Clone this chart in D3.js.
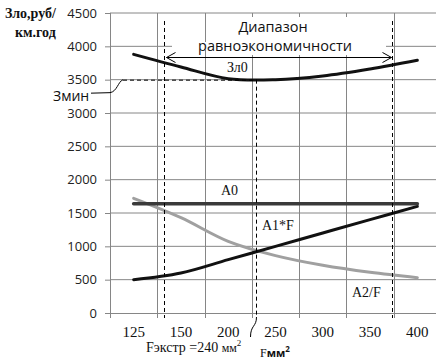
<!DOCTYPE html>
<html>
<head>
<meta charset="utf-8">
<script src="https://cdn.jsdelivr.net/npm/d3@7"></script>
<style>
  body { margin: 0; background: #fff; }
  svg { display: block; }
</style>
</head>
<body>
<div id="chart"></div>
<script>
// categories (F, mm2) and series
const categories = ["125", "150", "200", "250", "300", "350", "400"];
const zl0  = [3880, 3690, 3515, 3500, 3555, 3660, 3790];
const a0   = [1640, 1640, 1640, 1640, 1640, 1640, 1640];
const a1F  = [500, 600, 800, 1000, 1200, 1400, 1600];
const a2F  = [1720, 1430, 1075, 860, 715, 610, 530];
const yTicks = [0, 500, 1000, 1500, 2000, 2500, 3000, 3500, 4000, 4500];
// dashed markers, as position in category index units (range start, Fэкстр, range end)
const markIdx = [0.64, 2.59, 5.46];

const svgWidth = 436, svgHeight = 362;
const margin = {top: 13, left: 110, bottom: 49};
const plotRight = 441;
const height = svgHeight - margin.top - margin.bottom;

const svg = d3.select("#chart").append("svg")
    .attr("width", svgWidth)
    .attr("height", svgHeight);

const x = d3.scaleBand().domain(categories).range([margin.left, plotRight]);
const xi = d3.scaleLinear().domain([-0.5, categories.length - 0.5]).range([margin.left, plotRight]);
const y = d3.scaleLinear().domain([0, 4500]).range([margin.top + height, margin.top]);
const cx = i => x(categories[i]) + x.bandwidth() / 2;

const grid = "#868686";

// horizontal grid
svg.append("g").selectAll("line")
    .data(yTicks.slice(1))
    .enter().append("line")
      .attr("x1", margin.left).attr("x2", plotRight)
      .attr("y1", d => y(d)).attr("y2", d => y(d))
      .attr("stroke", grid).attr("stroke-width", 1);

// vertical grid at category boundaries
svg.append("g").selectAll("line")
    .data(categories.slice(1))
    .enter().append("line")
      .attr("x1", d => Math.round(x(d)) + 0.5).attr("x2", d => Math.round(x(d)) + 0.5)
      .attr("y1", margin.top).attr("y2", y(0))
      .attr("stroke", grid).attr("stroke-width", 1);

// y axis
const yAxis = svg.append("g")
    .attr("transform", "translate(" + margin.left + ",0)")
    .call(d3.axisLeft(y).tickValues(yTicks).tickSize(5).tickPadding(8).tickFormat(d3.format("d")));
yAxis.selectAll("line, path").attr("stroke", grid);
yAxis.select(".domain").attr("d", "M0.5," + y(0) + "V" + margin.top);
yAxis.selectAll("text")
    .attr("font-family", "'Open Sans', 'Liberation Sans', sans-serif")
    .attr("font-size", 13).attr("fill", "#222");

// x axis
const xAxis = svg.append("g")
    .attr("transform", "translate(0," + y(0) + ")")
    .call(d3.axisBottom(x).tickSize(0).tickPadding(13));
xAxis.select(".domain").attr("stroke", grid).attr("d", "M" + margin.left + ",0.5H" + plotRight);
xAxis.selectAll("text")
    .attr("font-family", "'Liberation Serif', 'Times New Roman', serif")
    .attr("font-size", 15).attr("fill", "#111");
svg.append("g").selectAll("line")
    .data(categories)
    .enter().append("line")
      .attr("x1", d => Math.round(x(d)) + 0.5).attr("x2", d => Math.round(x(d)) + 0.5)
      .attr("y1", y(0)).attr("y2", y(0) + 5)
      .attr("stroke", grid);

// white label box over the grid
svg.append("rect").attr("x", 172).attr("y", 42).attr("width", 214).attr("height", 8).attr("fill", "#fff");
svg.append("rect").attr("x", 210).attr("y", 17).attr("width", 176).attr("height", 38).attr("fill", "#fff");

// series
const line = d3.line()
    .x((d, i) => cx(i))
    .y(d => y(d))
    .curve(d3.curveCatmullRom.alpha(0.5));

const series = [
  {values: a2F, color: "#a0a0a0", width: 3},
  {values: a1F, color: "#111", width: 3},
  {values: a0, color: "#3a3a3a", width: 3.5},
  {values: zl0, color: "#111", width: 3}
];
svg.append("g").selectAll("path")
    .data(series)
    .enter().append("path")
      .attr("d", d => line(d.values))
      .attr("fill", "none")
      .attr("stroke", d => d.color)
      .attr("stroke-width", d => d.width)
      .attr("stroke-linecap", "round");

// dashed markers
const dash = "4,3";
const m0 = Math.round(xi(markIdx[0])) + 0.5, m1 = Math.round(xi(markIdx[1])) + 0.5, m2 = Math.round(xi(markIdx[2])) + 0.5;
svg.append("line")
    .attr("x1", m0).attr("x2", m0)
    .attr("y1", 21).attr("y2", y(0) + 5)
    .attr("stroke", "#000").attr("stroke-dasharray", dash);
svg.append("line")
    .attr("x1", m1).attr("x2", m1)
    .attr("y1", y(3500)).attr("y2", y(0) + 4)
    .attr("stroke", "#000").attr("stroke-dasharray", dash);
svg.append("line")
    .attr("x1", m2).attr("x2", m2)
    .attr("y1", 21).attr("y2", y(0) + 5)
    .attr("stroke", "#000").attr("stroke-dasharray", dash);
svg.append("line")
    .attr("x1", 123).attr("x2", m1)
    .attr("y1", y(3500) + 0.5).attr("y2", y(3500) + 0.5)
    .attr("stroke", "#000").attr("stroke-dasharray", dash);

// leaders
svg.append("path")
    .attr("d", "M91," + (y(3500) + 13.5) + " L110," + (y(3500) + 13) + " C117," + (y(3500) + 12) + " 118," + (y(3500) + 2) + " 123," + y(3500))
    .attr("fill", "none").attr("stroke", "#000").attr("stroke-width", 1);
svg.append("path")
    .attr("d", "M" + m1 + "," + (y(0) + 4) + " C" + m1 + "," + (y(0) + 14) + " " + (m1 - 6) + "," + (y(0) + 12) + " " + (m1 - 6) + "," + (y(0) + 24))
    .attr("fill", "none").attr("stroke", "#000").attr("stroke-width", 1);

// double arrow for range
const ay = 57.5, ax1 = m0 + 2, ax2 = m2 - 1;
svg.append("path")
    .attr("d", "M" + ax1 + "," + ay + "H" + ax2 +
               "M" + (ax1 + 9) + "," + (ay - 5) + "L" + ax1 + "," + ay + "L" + (ax1 + 9) + "," + (ay + 5) +
               "M" + (ax2 - 9) + "," + (ay - 5) + "L" + ax2 + "," + ay + "L" + (ax2 - 9) + "," + (ay + 5))
    .attr("fill", "none").attr("stroke", "#000").attr("stroke-width", 1);

// texts
const sans = "'Open Sans', 'Liberation Sans', sans-serif";
const serif = "'Liberation Serif', 'Times New Roman', serif";
function label(t, px, py, font, size, opts) {
  const o = opts || {};
  return svg.append("text").attr("x", px).attr("y", py)
      .attr("font-family", font).attr("font-size", size)
      .attr("font-weight", o.bold ? "bold" : null)
      .attr("text-anchor", o.anchor || "start")
      .attr("fill", "#111").text(t);
}
label("Зло,руб/", 5, 18, serif, 14, {bold: true});
label("км.год", 15, 37, serif, 14, {bold: true});
label("Змин", 53, 101, sans, 14);
label("Диапазон", 273, 32, sans, 14.5, {anchor: "middle"});
label("равноэкономичности", 275, 51, sans, 14.5, {anchor: "middle"});
label("Зл0", 227, 72, serif, 14);
label("A0", 221, 195, serif, 14);
label("A1*F", 262, 230, serif, 14);
label("A2/F", 352, 297, serif, 14);

const fe = label("Fэкстр =240 ", 146, 352, serif, 14);
fe.append("tspan").attr("font-size", 12).text("мм");
fe.append("tspan").attr("font-size", 9).attr("dy", -6).text("2");
const fm = svg.append("text").attr("x", 260).attr("y", 357)
    .attr("font-family", sans).attr("font-size", 11).attr("font-weight", "bold").attr("fill", "#111");
fm.append("tspan").attr("font-family", serif).attr("font-weight", "normal").attr("font-size", 12).text("F");
fm.append("tspan").text("мм");
fm.append("tspan").attr("font-size", 8).attr("dy", -5).text("2");
</script>
</body>
</html>
